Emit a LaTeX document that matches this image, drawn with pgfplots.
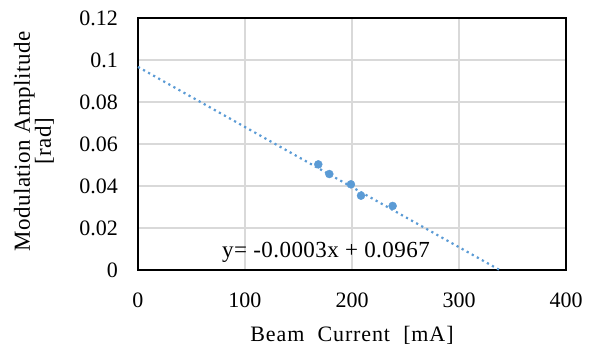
\documentclass[border=0pt]{standalone}
\usepackage{pgfplots}
\pgfplotsset{compat=1.18}
\usepackage{fontspec}
\setmainfont{Liberation Serif}
\newfontfamily\spacedfont[LetterSpace=4]{Liberation Serif}
\newfontfamily\yfont[LetterSpace=2]{Liberation Serif}
\definecolor{myblue}{HTML}{5B9BD5}
\definecolor{gridgray}{HTML}{D9D9D9}
\begin{document}
\begin{tikzpicture}
\begin{axis}[
  name=ax,
  scale only axis,
  width=428bp, height=252bp,
  xmin=0, xmax=400, ymin=0, ymax=0.12,
  xtick={0,100,200,300,400},
  ytick={0,0.02,0.04,0.06,0.08,0.1,0.12},
  yticklabels={0,0.02,0.04,0.06,0.08,0.1,0.12},
  xticklabels={0,100,200,300,400},
  grid=major,
  major grid style={draw=gridgray, line width=1.3bp},
  axis line style={line width=1.4bp},
  major tick length=0pt,
  xticklabel style={font=\fontsize{22bp}{24bp}\selectfont, anchor=center, inner sep=0pt, yshift=-30bp},
  yticklabel style={font=\fontsize{22bp}{24bp}\selectfont, anchor=east, inner sep=0pt, xshift=-20bp},
  xlabel={\spacedfont Beam\hspace{0.6em}Current\hspace{0.6em}[mA]},
  xlabel style={font=\fontsize{22bp}{24bp}\selectfont, at={(axis description cs:0.5,0)}, anchor=center, inner sep=0pt, yshift=-65bp},
  ylabel={\yfont Modulation Amplitude\\\relax{\yfont [rad]}},
  ylabel style={font=\fontsize{23bp}{21bp}\selectfont, align=center, at={(axis description cs:0,0.51)}, anchor=center, inner sep=0pt, yshift=104bp},
  clip=false,
]
\addplot[color=myblue, line width=2.2bp, dash pattern=on 2.2bp off 3.6bp, forget plot] coordinates {(0,0.0967) (338,0)};
\addplot[only marks, mark=*, mark size=4bp, color=myblue] coordinates {
(168.5,0.0503) (178.8,0.0457) (199,0.0408) (208.4,0.0354) (238,0.0305)};
\node[font=\fontsize{23bp}{24bp}\selectfont, inner sep=0pt] at (axis cs:175.7,0.0086) {\yfont y= -0.0003x + 0.0967};
\end{axis}
\pgfresetboundingbox
\useasboundingbox ([shift={(-138bp,-79bp)}]ax.south west) rectangle ([shift={(27bp,18bp)}]ax.north east);
\end{tikzpicture}
\end{document}
